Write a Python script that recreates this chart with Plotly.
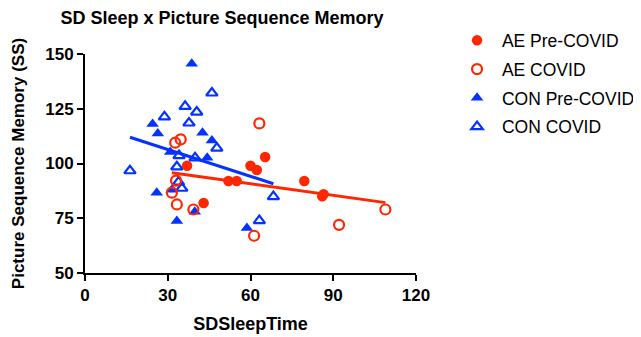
import numpy as np
import plotly.graph_objects as go

# ---- data ----
ae_pre_x = [37, 43, 52, 55, 60, 62.3, 65.3, 79.5, 86, 86.5]
ae_pre_y = [99, 82, 92, 92, 99, 97, 103, 92, 85, 86]

ae_cov_x = [32.7, 34.7, 63.2, 33.0, 31.5, 33.3, 39.3, 61.3, 92.1, 108.9]
ae_cov_y = [109.5, 111, 118.3, 92.2, 86.7, 81.3, 79.0, 67.0, 72.0, 79.0]

con_pre_x = [38.7, 24.5, 26.4, 42.6, 46.0, 44.3, 30.9, 31.5, 26.0, 33.3, 58.7, 39.8]
con_pre_y = [145.5, 118, 113.7, 114, 110.5, 102.6, 105.2, 88.0, 86.6, 73.7, 70.5, 78.0]

con_cov_x = [46.0, 28.8, 36.3, 40.5, 37.7, 47.8, 16.3, 34.1, 39.9, 33.3, 33.9, 35.1, 68.3, 63.2]
con_cov_y = [132.2, 121.3, 126.1, 123.5, 118.5, 107.0, 96.7, 103.6, 102.6, 98.5, 91.5, 88.7, 84.9, 73.9]

x_ticks = [0, 30, 60, 90, 120]
y_ticks = [50, 75, 100, 125, 150]

RED = "#FF2600"
BLUE = "#0433FF"
NB = "\u00a0"

fig = go.Figure()

def fit_line(xs, ys):
    xs = np.asarray(xs, float)
    ys = np.asarray(ys, float)
    m, b = np.polyfit(xs, ys, 1)
    xx = np.array([xs.min(), xs.max()])
    return xx, m * xx + b

ae_x = ae_pre_x + ae_cov_x
ae_y = ae_pre_y + ae_cov_y
con_x = con_pre_x + con_cov_x
con_y = con_pre_y + con_cov_y

lx, ly = fit_line(ae_x, ae_y)
fig.add_trace(go.Scatter(x=lx, y=ly, mode="lines", line=dict(color=RED, width=3),
                         showlegend=False, hoverinfo="skip"))
lx, ly = fit_line(con_x, con_y)
fig.add_trace(go.Scatter(x=lx, y=ly, mode="lines", line=dict(color=BLUE, width=3),
                         showlegend=False, hoverinfo="skip"))

fig.add_trace(go.Scatter(x=con_pre_x, y=con_pre_y, mode="markers", name=NB + "CON Pre-COVID",
                         legendgroup="c", legendrank=3,
                         marker=dict(symbol="triangle-up", size=11, color=BLUE)))
fig.add_trace(go.Scatter(x=con_cov_x, y=con_cov_y, mode="markers", name=NB + "CON COVID",
                         legendgroup="d", legendrank=4,
                         marker=dict(symbol="triangle-up-open", size=10, color=BLUE,
                                     line=dict(width=2.2, color=BLUE))))
fig.add_trace(go.Scatter(x=ae_pre_x, y=ae_pre_y, mode="markers", name=NB + "AE Pre-COVID",
                         legendgroup="a", legendrank=1,
                         marker=dict(symbol="circle", size=10.5, color=RED)))
fig.add_trace(go.Scatter(x=ae_cov_x, y=ae_cov_y, mode="markers", name=NB + "AE COVID",
                         legendgroup="b", legendrank=2,
                         marker=dict(symbol="circle-open", size=10, color=RED,
                                     line=dict(width=2.2, color=RED))))

FONT = "Liberation Sans, Arial, sans-serif"

# page body has an 8px default margin; compensate so the plot lands where the reference has it
W, H = 633, 329
fig.update_layout(
    width=W, height=H,
    margin=dict(l=77, r=225, t=46, b=64, autoexpand=False),
    plot_bgcolor="white", paper_bgcolor="white",
    font=dict(family=FONT, color="black"),
    title=dict(text="<b>SD Sleep x Picture Sequence Memory</b>", x=214 / W, xanchor="center",
               y=1 - 10 / H, yanchor="middle", font=dict(size=18, family=FONT, color="black")),
    showlegend=True,
    legend=dict(x=1.124, xanchor="left", y=1.144, yanchor="top",
                font=dict(size=17.5, family=FONT, color="black"),
                traceorder="grouped", tracegroupgap=3, itemwidth=30,
                bgcolor="rgba(0,0,0,0)"),
    xaxis=dict(range=[0, 120], tickvals=x_ticks, showgrid=False, zeroline=False,
               showline=True, linecolor="black", linewidth=2,
               ticks="outside", ticklen=6, tickwidth=2, tickcolor="black",
               tickfont=dict(size=17, family=FONT, weight="bold"),
               title=dict(text="<b>SDSleepTime</b>", font=dict(size=18, family=FONT), standoff=13)),
    yaxis=dict(range=[50, 150], tickvals=y_ticks, showgrid=False, zeroline=False,
               showline=True, linecolor="black", linewidth=2,
               ticks="outside", ticklen=6, tickwidth=2, tickcolor="black",
               tickfont=dict(size=17, family=FONT, weight="bold"),
               title=dict(text="<b>Picture Sequence Memory (SS)</b>", font=dict(size=17, family=FONT),
                          standoff=16)),
)

fig.write_html("out.html")
